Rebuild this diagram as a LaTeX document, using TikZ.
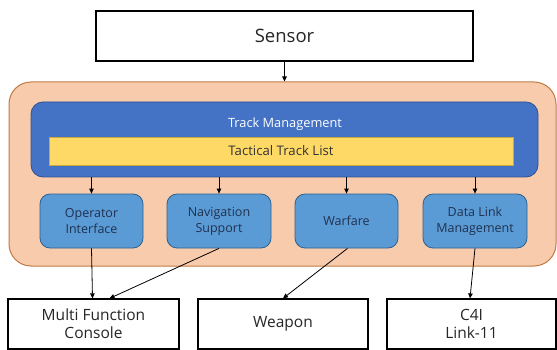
\documentclass[tikz,border=0pt]{standalone}
\usepackage{fontspec}
\setmainfont{Open Sans}
\usetikzlibrary{arrows.meta}

\definecolor{peach}{HTML}{F8CBAD}
\definecolor{peachline}{HTML}{C07A45}
\definecolor{tmblue}{HTML}{4472C4}
\definecolor{tmline}{HTML}{2F528F}
\definecolor{listyellow}{HTML}{FFD966}
\definecolor{listline}{HTML}{C9A83C}
\definecolor{modblue}{HTML}{5B9BD5}
\definecolor{modline}{HTML}{2E5F8E}
\definecolor{modtext}{HTML}{1F3150}

\tikzset{
  extbox/.style={draw=black, line width=1.2pt, fill=white, inner sep=0pt,
    minimum height=50pt, align=center, font=\fontsize{15.5}{18}\selectfont, text=black!85},
  csbox/.style={draw=peachline, line width=1pt, fill=peach, rounded corners=22pt,
    inner sep=0pt, minimum width=547pt, minimum height=184pt},
  tmbox/.style={draw=tmline, line width=0.8pt, fill=tmblue, rounded corners=12pt,
    inner sep=0pt, minimum width=507pt, minimum height=75pt},
  listbox/.style={draw=listline, line width=0.5pt, fill=listyellow, inner sep=0pt,
    minimum width=464pt, minimum height=28pt, font=\fontsize{13.2}{15}\selectfont, text=black!80},
  modbox/.style={draw=modline, line width=0.8pt, fill=modblue, rounded corners=10pt,
    inner sep=0pt, minimum height=54pt, align=center,
    font=\fontsize{12.5}{16}\selectfont, text=modtext},
  flow/.style={draw=black, line width=0.8pt, -{Triangle[length=5pt,width=4.5pt]}}
}

\begin{document}
\begin{tikzpicture}[x=1pt, y=-1pt]
  \useasboundingbox (0,0) rectangle (557,350);

  % external sensor feeding the system
  \node[extbox, minimum width=377pt, font=\fontsize{18.5}{22}\selectfont] (sensor) at (284.5,36) {Sensor};

  % combat system container
  \node[csbox] (cs) at (282.5,174) {};

  % track management with the tactical track list
  \node[tmbox] (tm) at (284.5,139.5) {};
  \node[text=white, font=\fontsize{12.8}{15}\selectfont] (tmlabel) at (285,124) {Track Management};
  \node[listbox] (ttl) at (281,151) {Tactical Track List};

  % functional modules
  \node[modbox, minimum width=103pt] (op)  at (91.5,221)  {Operator\\Interface};
  \node[modbox, minimum width=104pt] (nav) at (219,221)   {Navigation\\Support};
  \node[modbox, minimum width=103pt] (war) at (346.5,221) {Warfare};
  \node[modbox, minimum width=104pt] (dl)  at (475,221)   {Data Link\\Management};

  % external systems
  \node[extbox, minimum width=171pt] (mfc)    at (93.5,324)  {Multi Function\\Console};
  \node[extbox, minimum width=170pt] (weapon) at (283,324)   {Weapon};
  \node[extbox, minimum width=169pt] (c4i)    at (471.5,324) {C4I\\Link-11};

  % data flow
  \draw[flow] (sensor.south) -- (sensor.south |- cs.north);
  \draw[flow] (tm.south -| op.north)  -- (op.north);
  \draw[flow] (tm.south -| nav.north) -- (nav.north);
  \draw[flow] (tm.south -| war.north) -- (war.north);
  \draw[flow] (tm.south -| dl.north)  -- (dl.north);

  \draw[flow] (op.south) -- ([xshift=1pt]mfc.north -| op.south);
  \draw[flow] (nav.south) -- ([xshift=16pt]mfc.north);
  \draw[flow] ([xshift=1pt]war.south) -- (weapon.north);
  \draw[flow] (dl.south) -- ([xshift=-1.5pt]c4i.north);
\end{tikzpicture}
\end{document}
